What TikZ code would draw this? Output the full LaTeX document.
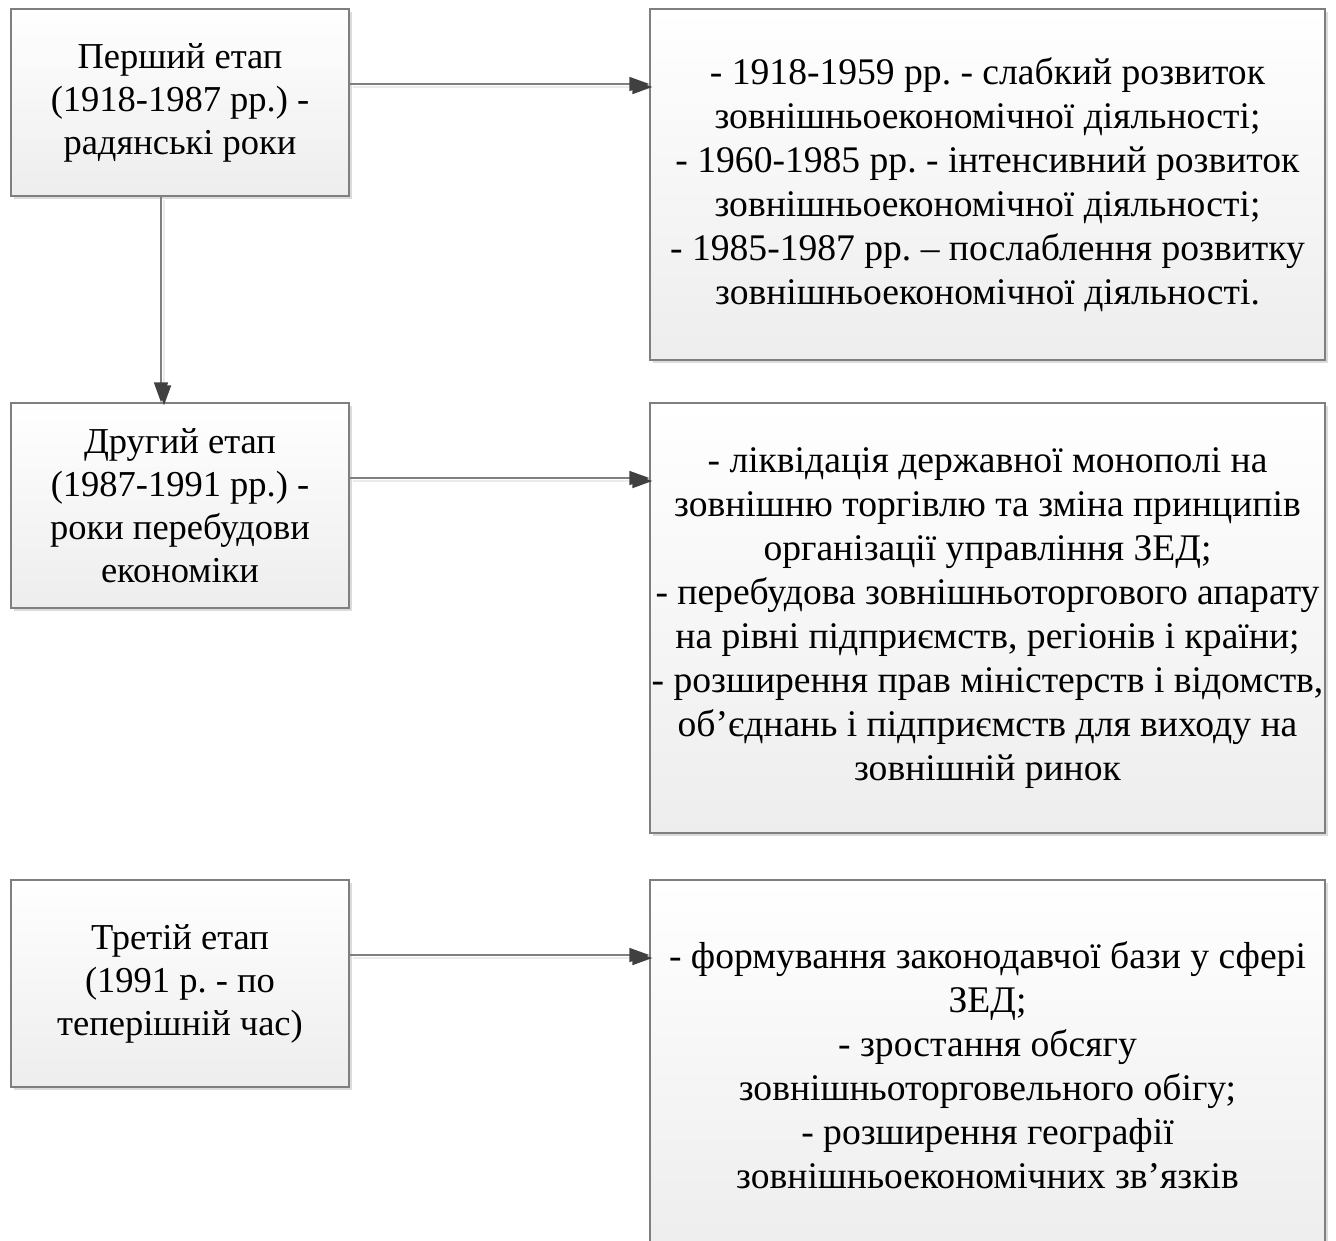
\documentclass[tikz,border=0pt]{standalone}
\usepackage{fontspec}
\setmainfont{Liberation Serif}
\usepackage{tikz}
\usetikzlibrary{positioning,arrows.meta,shadows,calc}
\definecolor{edgec}{HTML}{7F7F7F}
\definecolor{tipc}{HTML}{404040}
\tikzset{
  box/.style={draw=edgec, line width=1.3pt, align=center, inner sep=0pt,
              top color=white, bottom color=black!7,
              drop shadow={shadow xshift=3pt, shadow yshift=-3pt, fill=black!14, opacity=1}},
  lbox/.style={box, minimum width=338pt, font=\fontsize{36.5}{43}\selectfont},
  rbox/.style={box, minimum width=675pt, font=\fontsize{37.6}{44}\selectfont},
  arr/.style={draw=edgec, line width=1.5pt, -{Triangle[length=20pt, width=14pt, color=tipc]},
              preaction={draw=black!8, line width=2pt, transform canvas={shift={(3pt,-3pt)}}}},
}
\frenchspacing
\begin{document}
\begin{tikzpicture}[x=1pt, y=-1pt]
  \useasboundingbox (0,0) rectangle (1336,1241);
  \node[lbox, minimum height=187pt] (etap1) at (180,102.5) {Перший етап\\(1918-1987 рр.) -\\радянські роки};
  \node[lbox, minimum height=205pt] (etap2) at (180,505.5) {Другий етап\\(1987-1991 рр.) -\\роки перебудови\\економіки};
  \node[lbox, minimum height=207pt] (etap3) at (180,983.5) {Третій етап\\(1991 р. - по\\теперішній час)};
  \node[rbox, minimum height=351pt] (zmist1) at (987.5,184.5) {- 1918-1959 рр. - слабкий розвиток\\зовнішньоекономічної діяльності;\\- 1960-1985 рр. - інтенсивний розвиток\\зовнішньоекономічної діяльності;\\- 1985-1987 рр. – послаблення розвитку\\зовнішньоекономічної діяльності.};
  \node[rbox, minimum height=430pt] (zmist2) at (987.5,618) {- ліквідація державної монополі на\\зовнішню торгівлю та зміна принципів\\організації управління ЗЕД;\\- перебудова зовнішньоторгового апарату\\на рівні підприємств, регіонів і країни;\\- розширення прав міністерств і відомств,\\об’єднань і підприємств для виходу на\\зовнішній ринок};
  \node[rbox, minimum height=370pt] (zmist3) at (987.5,1065) {- формування законодавчої бази у сфері\\ЗЕД;\\- зростання обсягу\\зовнішньоторговельного обігу;\\- розширення географії\\зовнішньоекономічних зв’язків};
  \coordinate (s1) at ([yshift=18.5pt]etap1.east);
  \coordinate (s2) at ([yshift=27.5pt]etap2.east);
  \coordinate (s3) at ([yshift=28.5pt]etap3.east);
  \draw[arr] (s1) -- (s1 -| zmist1.west);
  \draw[arr] (s2) -- (s2 -| zmist2.west);
  \draw[arr] (s3) -- (s3 -| zmist3.west);
  \draw[arr] ([xshift=-19pt]etap1.south) -- ([xshift=-19pt]etap2.north);
\end{tikzpicture}
\end{document}
